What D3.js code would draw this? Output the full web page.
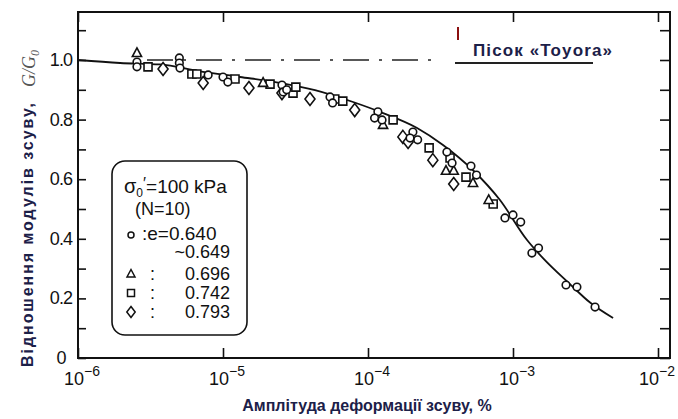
<!DOCTYPE html>
<html>
<head>
<meta charset="utf-8">
<script src="https://cdn.jsdelivr.net/npm/d3@7"></script>
<style>
  body { margin: 0; background: #fff; }
  svg { display: block; }
</style>
</head>
<body>
<script>
// fitted curve
var curveStrain = [1.0e-6, 1.95e-6, 3.68e-6, 6.93e-6, 1.31e-5, 2.29e-5, 4.31e-5, 7.89e-5, 1.27e-4,
                   2.18e-4, 3.29e-4, 5.30e-4, 8.13e-4, 1.25e-3, 1.61e-3, 2.47e-3, 3.40e-3, 4.90e-3];
var curveRatio  = [1.0, 0.99, 0.985, 0.962, 0.943, 0.926, 0.899, 0.859, 0.822,
                   0.772, 0.715, 0.63, 0.53, 0.396, 0.335, 0.248, 0.186, 0.134];

// e = 0.640 ~ 0.649
var circStrain = [2.55e-6, 2.55e-6, 5.0e-6, 5.0e-6, 5.05e-6, 7.9e-6, 1.0e-5, 1.08e-5, 2.55e-5, 2.6e-5, 2.75e-5,
                  5.47e-5, 5.7e-5, 1.17e-4, 1.11e-4, 1.25e-4, 2.04e-4, 2.2e-4, 1.95e-4, 3.5e-4, 3.8e-4,
                  5.13e-4, 5.6e-4, 8.8e-4, 1.0e-3, 1.13e-3, 1.35e-3, 1.5e-3, 2.32e-3, 2.76e-3, 3.68e-3];
var circRatio  = [0.993, 0.977, 1.007, 0.99, 0.973, 0.95, 0.943, 0.926, 0.916, 0.893, 0.9,
                  0.876, 0.856, 0.826, 0.805, 0.799, 0.758, 0.732, 0.738, 0.691, 0.654,
                  0.644, 0.614, 0.47, 0.48, 0.456, 0.352, 0.369, 0.245, 0.238, 0.171];
// e = 0.696
var triStrain = [2.55e-6, 1.89e-5, 1.27e-4, 3.45e-4, 3.9e-4, 5.3e-4, 6.8e-4];
var triRatio  = [1.023, 0.923, 0.782, 0.628, 0.628, 0.587, 0.53];
// e = 0.742
var sqStrain = [3.04e-6, 6.1e-6, 6.6e-6, 1.21e-5, 2.11e-5, 3.04e-5, 3.18e-5, 5.9e-5, 6.7e-5,
                1.49e-4, 2.64e-4, 3.68e-4, 4.74e-4, 7.3e-4];
var sqRatio  = [0.977, 0.953, 0.953, 0.936, 0.919, 0.889, 0.909, 0.869, 0.862,
                0.799, 0.705, 0.671, 0.607, 0.517];
// e = 0.793
var diaStrain = [3.86e-6, 7.3e-6, 1.51e-5, 2.55e-5, 3.98e-5, 8.1e-5, 1.74e-4, 1.89e-4, 2.8e-4, 3.9e-4];
var diaRatio  = [0.97, 0.923, 0.906, 0.889, 0.869, 0.832, 0.742, 0.725, 0.664, 0.584];

var xTickExp = [-6, -5, -4, -3, -2];
var xTicks = [1e-6, 1e-5, 1e-4, 1e-3, 1e-2];
var yTicks = [0, 0.1, 0.2, 0.3, 0.4, 0.5, 0.6, 0.7, 0.8, 0.9, 1.0, 1.1];
var yLabels = ["0", "0.2", "0.4", "0.6", "0.8", "1.0"];
var legendRows = ["0.696", "0.742", "0.793"];

var W = 678, H = 419;
var frame = {left: 78, right: 670, top: 12, bottom: 358};

var svg = d3.select("body").append("svg")
    .attr("width", W)
    .attr("height", H);

var x = d3.scaleLog().domain([1e-6, 1e-2]).range([78, 658]);
var y = d3.scaleLinear().domain([0, 1]).range([358, 60]);

var ink = "#111";
var navy = "#1c2048";

// frame
svg.append("rect")
    .attr("x", frame.left).attr("y", frame.top)
    .attr("width", frame.right - frame.left)
    .attr("height", frame.bottom - frame.top)
    .attr("fill", "none")
    .attr("stroke", ink)
    .attr("stroke-width", 2);

// axes, ticks pointing inward on all four sides
function styleAxis(g) {
  g.select(".domain").remove();
  g.selectAll(".tick line").attr("stroke", ink).attr("stroke-width", 1.6);
  g.selectAll(".tick text").remove();
}
svg.append("g").attr("transform", "translate(0," + frame.bottom + ")")
    .call(d3.axisBottom(x).tickValues(xTicks).tickSizeInner(-10).tickFormat(""))
    .call(styleAxis);
svg.append("g").attr("transform", "translate(0," + frame.top + ")")
    .call(d3.axisTop(x).tickValues(xTicks).tickSizeInner(-10).tickFormat(""))
    .call(styleAxis);
svg.append("g").attr("transform", "translate(" + frame.left + ",0)")
    .call(d3.axisLeft(y).tickValues(yTicks).tickSizeInner(-8).tickFormat(""))
    .call(styleAxis);
svg.append("g").attr("transform", "translate(" + frame.right + ",0)")
    .call(d3.axisRight(y).tickValues(yTicks).tickSizeInner(-10).tickFormat(""))
    .call(styleAxis);

// x tick labels 10^n
var xl = svg.append("g")
    .attr("font-family", "Liberation Sans, Arial, sans-serif")
    .attr("fill", ink);
xTicks.forEach(function(t, i) {
  var last = i === xTicks.length - 1;
  var tx = xl.append("text")
      .attr("x", x(t) - (last ? 19 : 14))
      .attr("y", 385)
      .attr("font-size", 18);
  tx.append("tspan").text("10");
  tx.append("tspan").attr("dy", -9).attr("font-size", 14).text("\u2212" + (-xTickExp[i]));
});

// y tick labels
var yl = svg.append("g")
    .attr("font-family", "Liberation Sans, Arial, sans-serif")
    .attr("font-size", 18)
    .attr("fill", ink)
    .attr("text-anchor", "middle");
yLabels.forEach(function(s) {
  yl.append("text")
      .attr("x", 61)
      .attr("y", y(+s) + 6)
      .attr("letter-spacing", -0.8)
      .text(s);
});

// axis titles
svg.append("text")
    .attr("x", 367).attr("y", 411)
    .attr("text-anchor", "middle")
    .attr("font-family", "Liberation Sans, Arial, sans-serif")
    .attr("font-weight", "bold")
    .attr("font-size", 16)
    .attr("fill", navy)
    .text("Амплітуда деформації зсуву, %");

svg.append("text")
    .attr("transform", "translate(33,367) rotate(-90)")
    .attr("font-family", "Liberation Sans, Arial, sans-serif")
    .attr("font-weight", "bold")
    .attr("font-size", 16)
    .attr("fill", navy)
    .attr("textLength", 264)
    .text("Відношення модулів зсуву,");

var gg = svg.append("text")
    .attr("transform", "translate(35,87) rotate(-90)")
    .attr("font-family", "Liberation Serif, Times New Roman, serif")
    .attr("font-style", "italic")
    .attr("font-size", 18)
    .attr("fill", "#555");
gg.append("tspan").text("G/G");
gg.append("tspan").attr("dy", 4).attr("font-size", 12).text("0");

// reference line at G/G0 = 1 and title
svg.append("line")
    .attr("x1", 147).attr("x2", 440)
    .attr("y1", y(1)).attr("y2", y(1))
    .attr("stroke", "#222")
    .attr("stroke-width", 1.3)
    .attr("stroke-dasharray", "26,10,3,10");

svg.append("line")
    .attr("x1", 455).attr("x2", 593)
    .attr("y1", 63).attr("y2", 63)
    .attr("stroke", "#222")
    .attr("stroke-width", 2.2);

svg.append("line")
    .attr("x1", 458).attr("x2", 458)
    .attr("y1", 27).attr("y2", 40)
    .attr("stroke", "#8b1010")
    .attr("stroke-width", 2);

svg.append("text")
    .attr("x", 473).attr("y", 56)
    .attr("font-family", "Liberation Sans, Arial, sans-serif")
    .attr("font-weight", "bold")
    .attr("font-size", 17)
    .attr("fill", navy)
    .attr("textLength", 139)
    .text("Пісок «Toyora»");

// fitted curve
var line = d3.line()
    .x(function(d) { return x(d[0]); })
    .y(function(d) { return y(d[1]); })
    .curve(d3.curveMonotoneX);

svg.append("path")
    .datum(d3.zip(curveStrain, curveRatio))
    .attr("d", line)
    .attr("fill", "none")
    .attr("stroke", ink)
    .attr("stroke-width", 1.8);

// markers
var triPath = "M0,-5.2L4.6,3.4L-4.6,3.4Z";
var sqPath = "M-4,-4H4V4H-4Z";
var diaPath = "M0,-6.5L5,0L0,6.5L-5,0Z";

function drawPoints(xs, ys, shape) {
  var g = svg.append("g");
  var sel = g.selectAll(".pt").data(d3.zip(xs, ys)).enter();
  var m;
  if (shape === "circle") {
    m = sel.append("circle").attr("r", 3.8)
        .attr("cx", function(d) { return x(d[0]); })
        .attr("cy", function(d) { return y(d[1]); });
  } else {
    m = sel.append("path").attr("d", shape)
        .attr("transform", function(d) { return "translate(" + x(d[0]) + "," + y(d[1]) + ")"; });
  }
  m.attr("class", "pt")
      .attr("fill", "#fff")
      .attr("stroke", ink)
      .attr("stroke-width", 1.6);
}
drawPoints(diaStrain, diaRatio, diaPath);
drawPoints(sqStrain, sqRatio, sqPath);
drawPoints(triStrain, triRatio, triPath);
drawPoints(circStrain, circRatio, "circle");

// legend box
var lg = svg.append("g")
    .attr("font-family", "Liberation Sans, Arial, sans-serif")
    .attr("font-size", 18)
    .attr("fill", ink);

lg.append("rect")
    .attr("x", 112).attr("y", 161)
    .attr("width", 135).attr("height", 174)
    .attr("rx", 13)
    .attr("fill", "#fff")
    .attr("stroke", ink)
    .attr("stroke-width", 1.6);

var sg = lg.append("text").attr("x", 124).attr("y", 193);
sg.append("tspan").attr("font-size", 20).text("σ");
sg.append("tspan").attr("dy", 4).attr("font-size", 12).text("0");
sg.append("tspan").attr("dy", -8).attr("font-size", 16).text("′");
sg.append("tspan").attr("dy", 4).attr("font-size", 19).text("=100 kPa");

lg.append("text").attr("x", 135).attr("y", 215).text("(N=10)");
lg.append("text").attr("x", 142).attr("y", 240).attr("font-size", 19).text(":e=0.640");
lg.append("text").attr("x", 230).attr("y", 258).attr("text-anchor", "end").text("~0.649");

lg.append("circle").attr("cx", 131).attr("cy", 235).attr("r", 3)
    .attr("fill", "#fff").attr("stroke", ink).attr("stroke-width", 1.5);

var legShapes = ["M0,-4.5L4,3L-4,3Z", "M-3.5,-3.5H3.5V3.5H-3.5Z", "M0,-5.5L4.2,0L0,5.5L-4.2,0Z"];
var legY = [280, 299, 318];
legendRows.forEach(function(s, i) {
  lg.append("path").attr("d", legShapes[i])
      .attr("transform", "translate(131," + (legY[i] - 6) + ")")
      .attr("fill", "#fff").attr("stroke", ink).attr("stroke-width", 1.5);
  lg.append("text").attr("x", 150).attr("y", legY[i]).text(":");
  lg.append("text").attr("x", 230).attr("y", legY[i]).attr("text-anchor", "end").text(s);
});
</script>
</body>
</html>
